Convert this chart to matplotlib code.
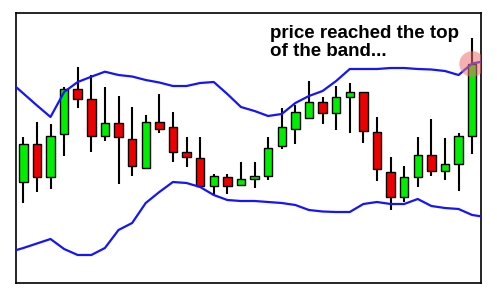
import numpy as np
import matplotlib
matplotlib.use("Agg")
import matplotlib.pyplot as plt

# =========================
# Data
# =========================

# candles: open, high, low, close
opens  = [118, 156, 123, 166, 211, 201, 164, 177, 161, 132, 178, 173, 148, 142, 114, 123, 115,
          121, 124, 154, 171, 182, 198, 187, 203, 208, 168, 128, 103, 123, 145, 129, 136, 164]
highs  = [163, 178, 176, 213, 233, 225, 213, 204, 193, 185, 206, 188, 163, 163, 126, 126, 138,
          138, 163, 192, 195, 219, 203, 214, 217, 208, 183, 143, 134, 163, 181, 162, 167, 262]
lows   = [97, 108, 111, 144, 192, 148, 159, 116, 124, 132, 167, 138, 133, 112, 105, 106, 115,
          112, 120, 151, 156, 181, 176, 170, 167, 157, 119, 90, 98, 113, 124, 120, 109, 146]
closes = [156, 123, 164, 211, 201, 164, 177, 163, 134, 178, 171, 148, 143, 114, 124, 114, 121,
          124, 152, 173, 188, 198, 187, 203, 208, 169, 131, 103, 123, 145, 129, 136, 164, 236]

# bollinger bands, one point before the first and after the last candle
upper_band = [218.5, 206.6, 194.6, 183, 208, 218, 223.3, 228.3, 225, 223.5, 220, 217.5, 214, 214,
              217, 218, 206, 193, 189, 184, 186, 197, 204, 209, 219, 231, 231, 231, 232, 232,
              231, 230.5, 229, 225, 236.5, 239]
lower_band = [48, 52, 56.5, 61, 51, 45, 45, 52, 70, 77, 97, 108, 118, 117, 113, 105, 100, 99, 99,
              98, 97, 95, 90, 88.5, 88, 88, 96, 98, 96, 96, 101, 94, 92, 91, 85, 83]

note = "price reached the top\nof the band..."

# =========================
# Plot
# =========================

o = np.array(opens)
c = np.array(closes)
x = np.arange(len(o))
xb = np.arange(-1, len(o) + 1)

fig = plt.figure(figsize=(4.97, 2.91), dpi=100)
ax = fig.add_axes([16 / 497, 8 / 291, 465 / 497, 270 / 291])

up = c >= o
colors = np.where(up, '#00ee00', '#ee0000')

ax.vlines(x, lows, highs, color='black', linewidth=1.5, zorder=2)
ax.bar(x, np.abs(c - o), bottom=np.minimum(o, c), width=0.62,
       color=colors, edgecolor='black', linewidth=1.0, zorder=3)

ax.plot(xb, upper_band, color='#1414ff', linewidth=1.6, zorder=4)
ax.plot(xb, lower_band, color='#1414ff', linewidth=1.6, zorder=4)

# highlight where price touched the upper band
ax.scatter([x[-1]], [closes[-1]], s=340, color='#ee7070', alpha=0.55,
           edgecolors='none', zorder=5)

ax.text(18.15, 275.5, note, fontsize=13.5, fontweight='bold', family='Liberation Sans',
        va='top', ha='left', linespacing=1.12, color='black')

ax.set_xlim(-0.537, 33.65)
ax.set_ylim(17, 287)
ax.set_xticks([])
ax.set_yticks([])
for s in ax.spines.values():
    s.set_linewidth(1.2)

fig.savefig('out.png', dpi=100)
